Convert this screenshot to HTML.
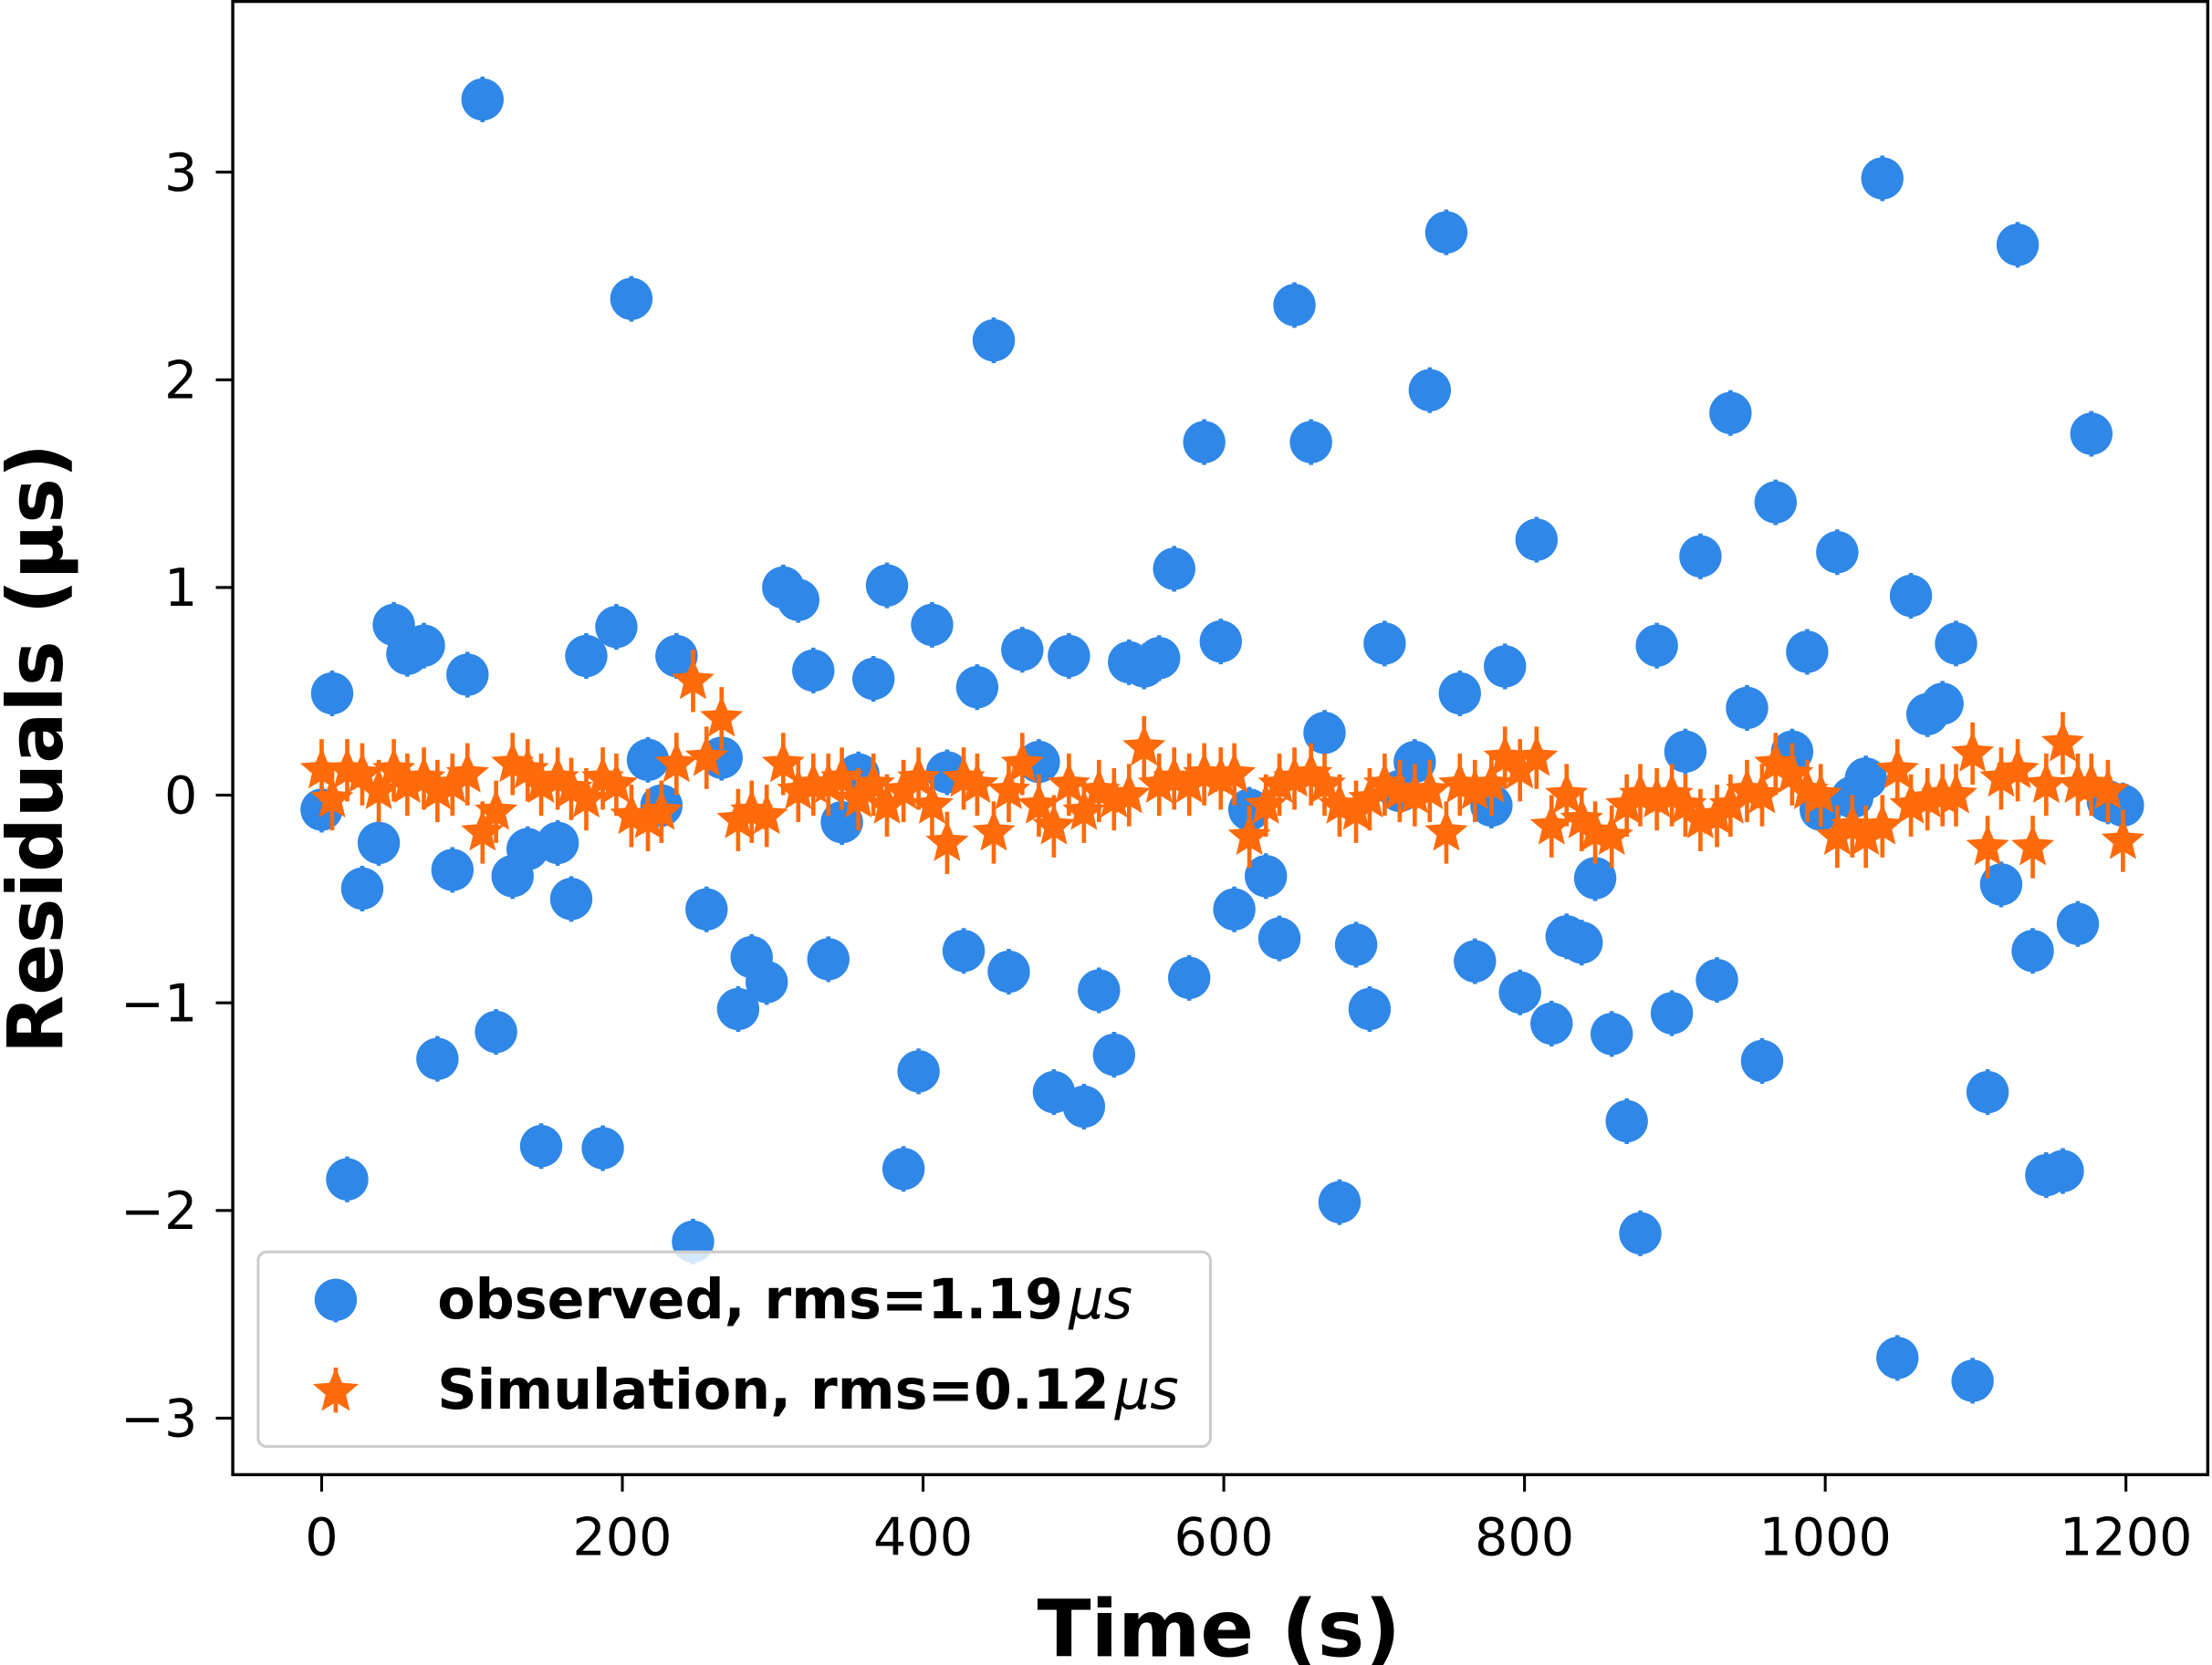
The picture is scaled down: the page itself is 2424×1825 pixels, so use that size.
<!DOCTYPE html>
<html><head><meta charset="utf-8"><style>
html,body{margin:0;padding:0;background:#fff;}
svg{display:block;}
text{font-family:"DejaVu Sans","Liberation Sans",sans-serif;fill:#000;}
</style></head><body>
<svg id="chart" width="2424" height="1825" viewBox="0 0 1568 1181" preserveAspectRatio="none" xmlns="http://www.w3.org/2000/svg">
<rect x="0" y="0" width="1568" height="1181" fill="#fff"/>
<g id="plot"></g>
<rect x="165" y="1" width="1400" height="1045" fill="none" stroke="#000" stroke-width="2.2"/>
<g id="xticks"></g><g id="yticks"></g>
<text x="864" y="1175" font-size="56" font-weight="bold" text-anchor="middle">Time (s)</text>
<text transform="translate(44,531) rotate(-90)" font-size="54" font-weight="bold" text-anchor="middle">Residuals (μs)</text>
<g>
<rect x="183" y="888" width="675" height="138" rx="6" fill="#fff" fill-opacity="0.8" stroke="#ccc" stroke-width="2"/>
<line x1="238" y1="907" x2="238" y2="938" stroke="#2f87e8" stroke-width="3"/>
<circle cx="238" cy="922" r="15" fill="#2f87e8"/>
<text x="310" y="935" font-size="39" font-weight="bold">observed, rms=1.19<tspan font-style="italic" font-weight="normal" dx="4">μs</tspan></text>
<line x1="238" y1="970" x2="238" y2="1002" stroke="#ff6a0a" stroke-width="3"/>
<path id="legstar" fill="#ff6a0a"/>
<text x="310" y="999" font-size="39" font-weight="bold">Simulation, rms=0.12<tspan font-style="italic" font-weight="normal" dx="4">μs</tspan></text>
</g>
</svg>
<script>
const times=[0,7,17,27,38,48,57,68,77,87,97,107,116,127,137,146,157,166,176,187,196,206,217,226,236,247,256,266,277,286,296,307,317,327,337,346,357,367,376,387,397,406,416,427,436,447,457,466,477,487,497,507,517,527,537,547,557,567,577,587,598,607,617,628,637,647,658,667,677,688,697,707,717,727,737,748,757,767,778,787,797,808,818,828,838,847,858,868,877,888,898,907,917,928,937,948,958,967,978,988,997,1008,1018,1027,1038,1048,1057,1068,1078,1087,1098,1108,1117,1128,1138,1147,1158,1168,1177,1188,1198];
const observed=[-0.07,0.49,-1.85,-0.45,-0.23,0.82,0.68,0.72,-1.27,-0.36,0.58,3.35,-1.14,-0.39,-0.26,-1.69,-0.23,-0.5,0.67,-1.7,0.81,2.39,0.17,-0.05,0.67,-2.15,-0.55,0.18,-1.03,-0.78,-0.9,1.0,0.94,0.6,-0.79,-0.13,0.1,0.56,1.01,-1.8,-1.33,0.82,0.11,-0.75,0.52,2.19,-0.85,0.7,0.16,-1.43,0.67,-1.5,-0.94,-1.25,0.64,0.62,0.66,1.09,-0.88,1.7,0.74,-0.55,-0.07,-0.39,-0.69,2.36,1.7,0.3,-1.96,-0.72,-1.03,0.73,0.02,0.16,1.95,2.71,0.49,-0.8,-0.05,0.62,-0.95,1.23,-1.1,-0.68,-0.71,-0.4,-1.15,-1.57,-2.11,0.72,-1.05,0.21,1.15,-0.89,1.84,0.42,-1.28,1.41,0.21,0.69,-0.07,1.17,-0.01,0.08,2.97,-2.71,0.96,0.39,0.44,0.73,-2.82,-1.43,-0.43,2.65,-0.75,-1.83,-1.81,-0.62,1.74,-0.03,-0.05];
const simulation=[0.12,-0.02,0.12,0.1,0.02,0.12,0.05,0.08,0.02,0.05,0.1,-0.18,-0.08,0.15,0.12,0.05,0.08,0.03,-0.02,0.08,0.05,-0.1,-0.12,-0.08,0.15,0.55,0.18,0.37,-0.12,-0.08,-0.1,0.15,0.02,0.05,0.05,0.08,-0.02,0.05,-0.05,0.02,0.08,-0.05,-0.23,0.08,0.05,-0.18,0.02,0.15,-0.05,-0.15,0.05,-0.08,0.02,-0.02,0.0,0.23,0.05,0.08,0.05,0.1,0.08,0.1,-0.2,-0.05,0.05,0.08,0.1,0.05,-0.05,-0.08,-0.02,0.05,0.02,0.0,0.02,-0.18,0.05,0.02,0.05,0.18,0.12,0.18,-0.15,0.0,-0.12,-0.18,-0.2,-0.05,0.0,-0.02,0.0,-0.05,-0.12,-0.1,-0.05,0.02,0.0,0.15,0.1,0.02,0.0,-0.2,-0.15,-0.2,-0.15,0.12,-0.05,-0.02,0.0,0.0,0.2,-0.25,0.08,0.12,-0.25,0.05,0.25,0.05,0.05,0.02,-0.22];
const xTicks=[0,200,400,600,800,1000,1200];
const yTicks=[-3,-2,-1,0,1,2,3];
const X=t=>228+(t-0)*(1507-228)/1200;
const Y=v=>564-v*147.3;
const NS="http://www.w3.org/2000/svg";
function mk(tag,attrs,parent){const e=document.createElementNS(NS,tag);for(const k in attrs)e.setAttribute(k,attrs[k]);parent.appendChild(e);return e;}
function starPath(cx,cy,R){const r=R*0.45;let d="";for(let i=0;i<10;i++){const a=-Math.PI/2+i*Math.PI/5;const rr=i%2?r:R;d+=(i?"L":"M")+(cx+rr*Math.cos(a)).toFixed(2)+","+(cy+rr*Math.sin(a)).toFixed(2);}return d+"Z";}
document.getElementById('legstar').setAttribute('d',starPath(238,987,17));
const plot=document.getElementById('plot');
times.forEach((t,i)=>{
  const cx=X(t),cy=Y(observed[i]);
  const l=mk('line',{x1:cx,x2:cx,y1:Y(observed[i]+0.11),y2:Y(observed[i]-0.11),stroke:'#2f87e8','stroke-width':3},plot);
  
  
  const c=mk('circle',{cx:cx,cy:cy,r:15,fill:'#2f87e8'},plot);
  
  
});
times.forEach((t,i)=>{
  const cx=X(t),cy=Y(simulation[i]);
  const l=mk('line',{x1:cx,x2:cx,y1:Y(simulation[i]+0.15),y2:Y(simulation[i]-0.15),stroke:'#ff6a0a','stroke-width':3},plot);
  
  
  const s=mk('path',{d:starPath(cx,cy,16),fill:'#ff6a0a'},plot);
  
  
});
const xg=document.getElementById('xticks');
xTicks.forEach(v=>{
  const x=X(v);
  const l=mk('line',{x1:x,x2:x,y1:1046,y2:1058,stroke:'#000','stroke-width':2},xg);
  
  
  const tx=mk('text',{x:x,y:1103,'font-size':37,'text-anchor':'middle'},xg);
  tx.textContent=String(v);
  
  
});
const yg=document.getElementById('yticks');
yTicks.forEach(v=>{
  const y=Y(v);
  const l=mk('line',{x1:153,x2:165,y1:y,y2:y,stroke:'#000','stroke-width':2},yg);
  
  
  const tx=mk('text',{x:140,y:y+13,'font-size':37,'text-anchor':'end'},yg);
  tx.textContent=v<0?'\u2212'+Math.abs(v):String(v);
  
  
});
</script>
</body></html>
